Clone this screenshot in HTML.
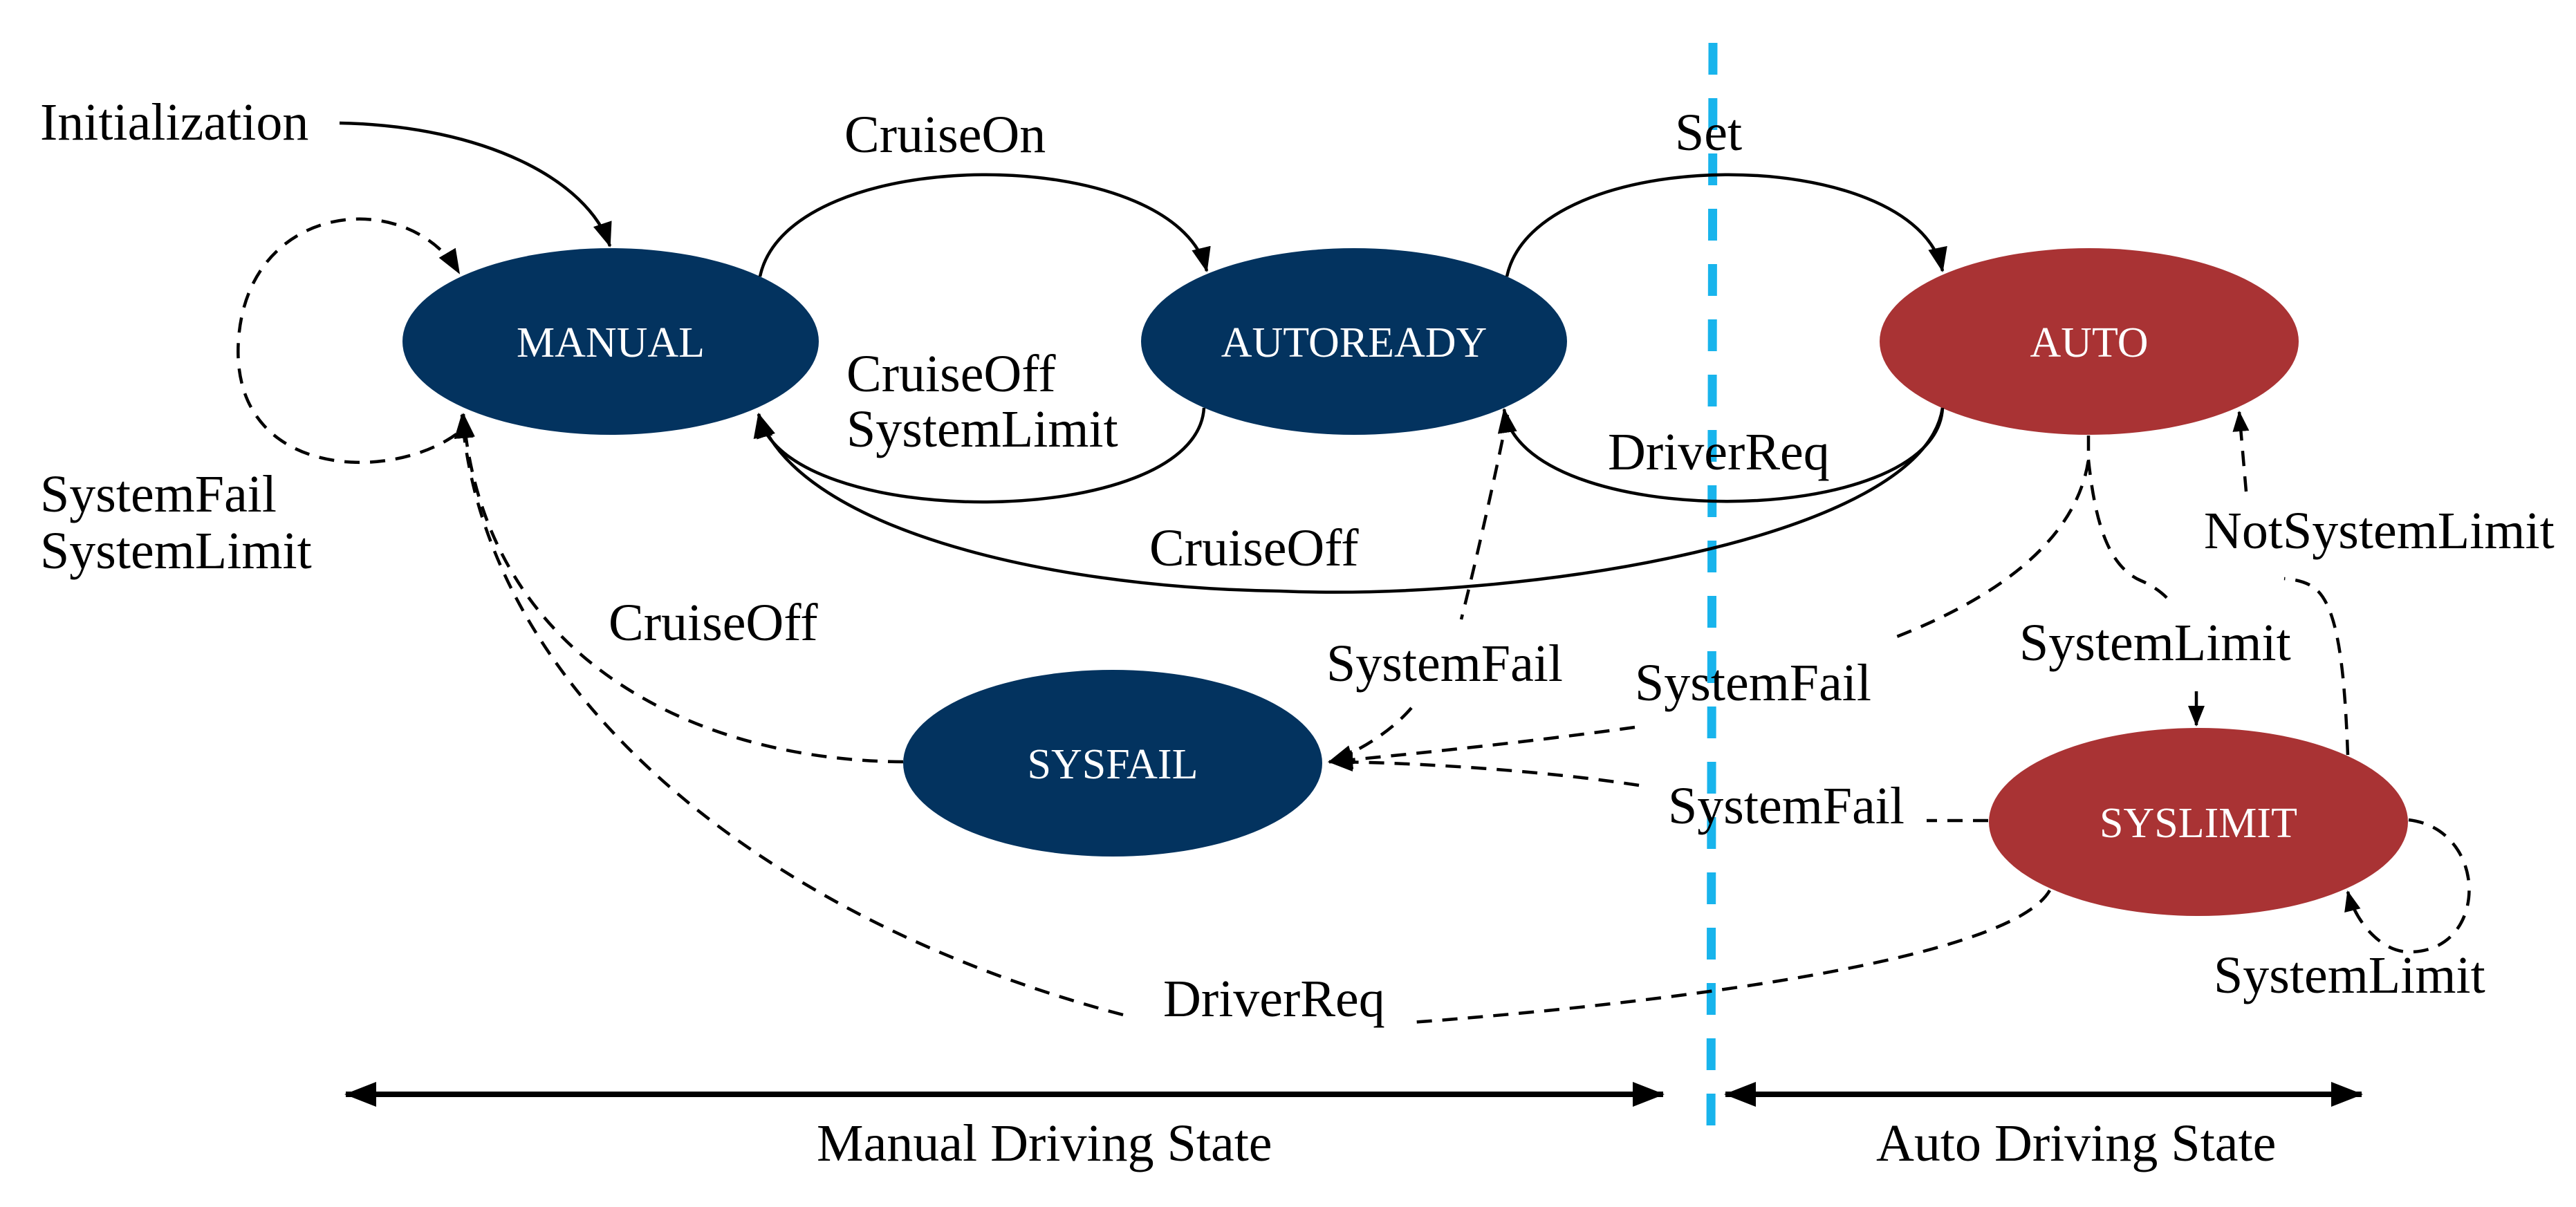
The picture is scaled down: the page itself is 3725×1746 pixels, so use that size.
<!DOCTYPE html>
<html><head><meta charset="utf-8"><style>
html,body{margin:0;padding:0;background:#fff;}
svg{display:block;}
text{font-family:"Liberation Serif",serif;}
</style></head><body>
<svg width="3725" height="1746" viewBox="0 0 3725 1746" xmlns="http://www.w3.org/2000/svg">
<defs>
<marker id="ah" markerUnits="userSpaceOnUse" markerWidth="40" markerHeight="30" refX="34" refY="14" orient="auto">
<path d="M0,0 L36,14 L0,28 Z" fill="#000"/>
</marker>
<marker id="ahs" markerUnits="userSpaceOnUse" markerWidth="40" markerHeight="30" refX="28" refY="12" orient="auto">
<path d="M0,0 L30,12 L0,24 Z" fill="#000"/>
</marker>
<marker id="big" markerUnits="userSpaceOnUse" markerWidth="50" markerHeight="40" refX="44" refY="18" orient="auto">
<path d="M0,0 L46,18 L0,36 Z" fill="#000"/>
</marker>
</defs>

<line x1="2477" y1="62" x2="2474" y2="1662" stroke="#18b4ec" stroke-width="13" stroke-dasharray="46,34"/>

<ellipse cx="883" cy="494" rx="301" ry="135" fill="#03335f"/>
<ellipse cx="1958" cy="494" rx="308" ry="135" fill="#03335f"/>
<ellipse cx="3021" cy="494" rx="303" ry="135" fill="#a93334"/>
<ellipse cx="1609" cy="1104" rx="303" ry="135" fill="#03335f"/>
<ellipse cx="3179" cy="1189" rx="303" ry="136" fill="#a93334"/>

<g fill="#fff" font-size="62" text-anchor="middle">
<text x="883" y="516">MANUAL</text>
<text x="1958" y="516">AUTOREADY</text>
<text x="3021" y="516">AUTO</text>
<text x="1609" y="1126">SYSFAIL</text>
<text x="3179" y="1211">SYSLIMIT</text>
</g>

<g fill="none" stroke="#000" stroke-width="4.5">
<path d="M491,178 C700,182 850,260 882,356" marker-end="url(#ah)"/>
<path d="M1099,400 C1140,205 1700,205 1745,392" marker-end="url(#ah)"/>
<path d="M1741,590 C1730,770 1130,770 1097,599" marker-end="url(#ah)"/>
<path d="M2809,590 C2780,780 2200,870 1850,855 C1500,850 1150,760 1097,599" marker-end="url(#ah)"/>
<path d="M2179,400 C2220,205 2770,205 2809,392" marker-end="url(#ah)"/>
<path d="M2809,590 C2800,770 2200,770 2175,592" marker-end="url(#ah)"/>
</g>

<g fill="none" stroke="#000" stroke-width="4.5" stroke-dasharray="22,15">
<path d="M660,628 C560,700 330,690 345,490 C360,290 590,270 664,395" marker-end="url(#ah)"/>
<path d="M1306,1102 C1000,1100 700,950 670,599" marker-end="url(#ah)"/>
<path d="M2964,1288 C2900,1400 2300,1460 2041,1479"/>
<path d="M1624,1468 C1100,1330 700,1000 668,600" marker-end="url(#ah)"/>
<path d="M2180,600 C2160,700 2130,830 2113,896"/>
<path d="M2041,1024 C2010,1060 1960,1090 1922,1102" marker-end="url(#ah)"/>
<path d="M3020,630 L3020,665 C3000,800 2850,880 2735,924"/>
<path d="M2364,1052 C2200,1075 2000,1095 1922,1102" marker-end="url(#ah)"/>
<path d="M2875,1187 L2786,1187"/>
<path d="M2370,1136 C2200,1110 2000,1102 1922,1102" marker-end="url(#ah)"/>
<path d="M3020,665 C3030,760 3050,820 3096,840 C3115,848 3130,860 3139,871"/>
<path d="M3395,1092 C3390,960 3380,870 3343,848 C3330,840 3315,838 3303,837"/>
<path d="M3248,711 L3238,596" marker-end="url(#ahs)"/>
<path d="M3483,1186 C3600,1200 3600,1380 3481,1377 C3440,1375 3405,1330 3395,1290" marker-end="url(#ahs)"/>
</g>
<path d="M3176,1000 L3176,1049" stroke="#000" stroke-width="4.5" fill="none" marker-end="url(#ahs)"/>

<g stroke="#000" stroke-width="8" fill="none">
<line x1="540" y1="1583" x2="2405" y2="1583" marker-end="url(#big)"/>
<line x1="2376" y1="1583" x2="500" y2="1583" marker-end="url(#big)"/>
<line x1="2530" y1="1583" x2="3415" y2="1583" marker-end="url(#big)"/>
<line x1="3410" y1="1583" x2="2495" y2="1583" marker-end="url(#big)"/>
</g>

<g fill="#000" font-size="76">
<text x="58" y="202">Initialization</text>
<text x="1221" y="220">CruiseOn</text>
<text x="1224" y="566">CruiseOff</text>
<text x="1224" y="646">SystemLimit</text>
<text x="58" y="740">SystemFail</text>
<text x="58" y="822">SystemLimit</text>
<text x="1662" y="818">CruiseOff</text>
<text x="880" y="926">CruiseOff</text>
<text x="1682" y="1470">DriverReq</text>
<text x="2422" y="217">Set</text>
<text x="2325" y="679">DriverReq</text>
<text x="1918" y="985">SystemFail</text>
<text x="2364" y="1013">SystemFail</text>
<text x="2412" y="1191">SystemFail</text>
<text x="2920" y="955">SystemLimit</text>
<text x="3187" y="793">NotSystemLimit</text>
<text x="3201" y="1436">SystemLimit</text>
<text x="1181" y="1679">Manual Driving State</text>
<text x="2713" y="1679">Auto Driving State</text>
</g>
</svg>
</body></html>
